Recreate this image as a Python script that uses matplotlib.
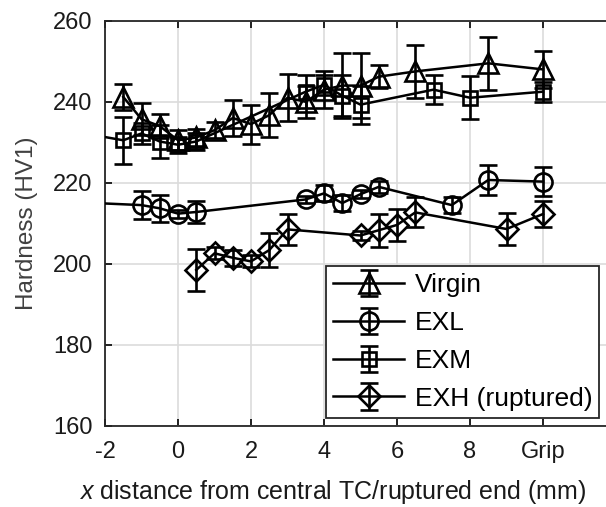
import numpy as np
import matplotlib
matplotlib.use("Agg")
import matplotlib.pyplot as plt

plt.rcParams['font.family'] = ['Liberation Sans', 'DejaVu Sans']
plt.rcParams['mathtext.fontset'] = 'custom'
plt.rcParams['mathtext.it'] = 'Liberation Sans:italic'
plt.rcParams['mathtext.rm'] = 'Liberation Sans'

# hardness profiles, x in mm from central TC / ruptured end (10 = grip)
virgin_x = [-1.5, -1, -0.5, 0, 0.5, 1, 1.5, 2, 2.5, 3, 3.5, 4, 4.5, 5, 5.5, 6.5, 8.5, 10]
virgin_y = [241.2, 235.7, 234.0, 230.5, 231.2, 233.0, 236.0, 234.5, 236.7, 241.0, 240.0, 243.0,
            244.0, 244.0, 246.2, 247.5, 249.5, 248.0]
virgin_e = [3.3, 4.0, 3.0, 2.5, 2.0, 2.0, 4.5, 4.8, 5.5, 5.8, 4.0, 4.5, 8.0, 8.0, 2.9, 6.5, 6.6, 4.5]

exl_x = [-2.5, -1, -0.5, 0, 0.5, 3.5, 4, 4.5, 5, 5.5, 7.5, 8.5, 10]
exl_y = [215.1, 214.5, 213.7, 212.4, 212.8, 215.9, 217.4, 215.0, 217.2, 219.0, 214.5, 220.7, 220.3]
exl_e = [2.0, 3.4, 3.4, 1.0, 2.8, 0.8, 2.0, 2.0, 1.0, 1.5, 2.0, 3.7, 3.5]

exm_x = [-2.5, -1.5, -1, -0.5, 0, 0.5, 3.5, 4, 4.5, 5, 7, 8, 10]
exm_y = [232.1, 230.5, 232.2, 230.2, 229.4, 230.2, 242.5, 244.2, 241.5, 239.3, 243.0, 241.0, 242.5]
exm_e = [3.0, 5.8, 2.5, 4.0, 2.0, 2.0, 4.0, 2.5, 5.0, 4.7, 3.5, 5.3, 2.5]

exh_x = [0.5, 1, 1.5, 2, 2.5, 3, 5, 5.5, 6, 6.5, 9, 10]
exh_y = [198.5, 202.6, 201.5, 200.6, 203.4, 208.5, 207.0, 208.3, 209.6, 212.7, 208.6, 212.3]
exh_e = [5.1, 1.5, 2.0, 1.5, 4.1, 3.9, 1.0, 4.1, 3.9, 3.7, 3.9, 3.3]

xticks = [-2, 0, 2, 4, 6, 8, 10]
xtick_labels = ['-2', '0', '2', '4', '6', '8', 'Grip']
yticks = [160, 180, 200, 220, 240, 260]

fig = plt.figure(figsize=(6.06, 5.07), dpi=100)
# right edge of the axes runs past the figure edge (x = 12 is cut off)
ax = fig.add_axes([0.1733, 0.160, 0.8432, 0.799])

series = [
    (virgin_x, virgin_y, virgin_e, '^', 14, 'Virgin'),
    (exl_x, exl_y, exl_e, 'o', 13, 'EXL'),
    (exm_x, exm_y, exm_e, 's', 10.5, 'EXM'),
    (exh_x, exh_y, exh_e, 'D', 11, 'EXH (ruptured)'),
]
for xs, ys, es, m, ms, lab in series:
    ax.errorbar(xs, ys, yerr=es, color='black', marker=m, markersize=ms,
                markerfacecolor='none', markeredgewidth=1.9, linewidth=1.8,
                elinewidth=1.9, capsize=6.5, capthick=1.9, label=lab, zorder=3)

ax.set_xlim(-2, 12)
ax.set_ylim(160, 260)
ax.set_xticks(xticks)
ax.set_xticklabels(xtick_labels)
ax.set_yticks(yticks)
ax.grid(True, color='#dcdcdc', linewidth=1.2, zorder=0)
ax.tick_params(direction='in', top=True, right=False, length=5, width=1.2,
               labelsize=17, labelcolor='#1a1a1a')
ax.tick_params(axis='x', pad=11)
ax.tick_params(axis='y', pad=9)
for s in ax.spines.values():
    s.set_linewidth(1.3)
    s.set_color('#262626')

ax.set_ylabel('Hardness (HV1)', fontsize=17.5, color='#404040', labelpad=11)
ax.set_xlabel(r'$x$ distance from central TC/ruptured end (mm)', fontsize=18,
              color='#1a1a1a')
ax.xaxis.set_label_coords(0.445, -0.128)

leg = ax.legend(loc='lower left', bbox_to_anchor=(0.432, 0.02), fontsize=19,
                handlelength=2.7, handletextpad=0.4, labelspacing=0.52,
                borderpad=0.27, borderaxespad=0.0, fancybox=False, framealpha=1,
                edgecolor='#262626')
leg.get_frame().set_linewidth(1.3)

fig.savefig('out.png', dpi=100)
